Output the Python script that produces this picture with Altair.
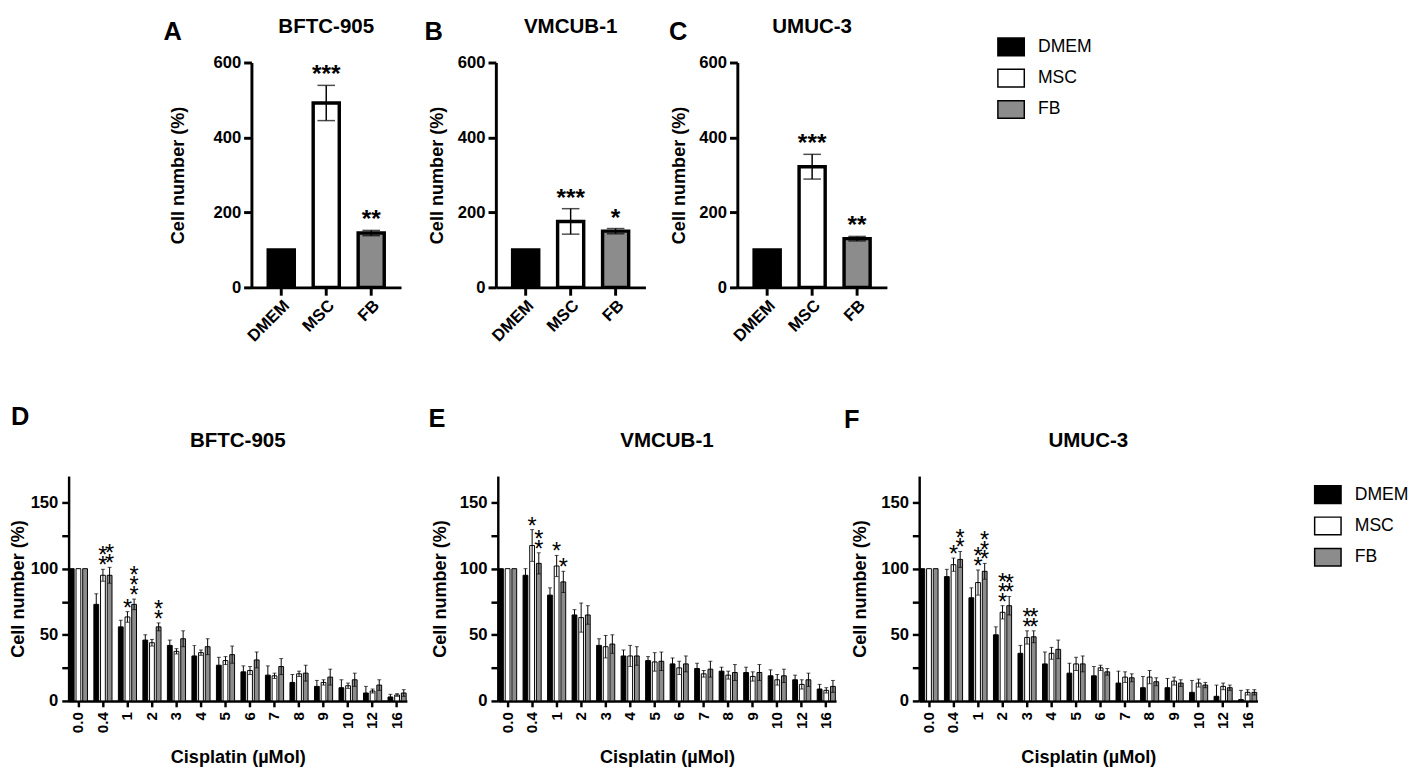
import altair as alt
import pandas as pd

FONT = "Liberation Sans"

groups = ["DMEM", "MSC", "FB"]
group_colors = ["#000000", "#ffffff", "#8c8c8c"]

# ---- Panels A-C (cell number, %) ----
a_mean = [100, 492, 145]
a_sd = [0, 47, 7]
a_star = ["", "***", "**"]
b_mean = [100, 176, 150]
b_sd = [0, 34, 7]
b_star = ["", "***", "*"]
c_mean = [100, 322, 130]
c_sd = [0, 33, 6]
c_star = ["", "***", "**"]

# ---- Panels D-F (cisplatin dose response, %) ----
doses = ["0.0", "0.4", "1", "2", "3", "4", "5", "6", "7", "8", "9", "10", "12", "16"]

d_dmem = [100, 73, 56, 46, 42, 34, 27, 22, 19.5, 14, 11, 10, 6, 3]
d_dmem_sd = [0, 8, 5, 4, 4, 8, 6, 4.5, 7, 6, 4.5, 6, 5, 2]
d_msc = [100, 95, 63.5, 44, 37.5, 36.5, 30.5, 23, 19, 20.5, 14, 11.5, 7.5, 4.5]
d_msc_sd = [0, 4.5, 4, 2.5, 2, 2, 3, 3, 2, 2, 2, 2, 1.5, 1]
d_fb = [100, 95, 73, 56, 47, 41, 35, 31, 26, 21, 18, 16, 12, 6]
d_fb_sd = [0, 6, 4, 3, 6, 6, 6.5, 6, 6, 6, 6, 5, 4, 2.5]
d_msc_star = ["", "**", "*", "", "", "", "", "", "", "", "", "", "", ""]
d_fb_star = ["", "**", "***", "**", "", "", "", "", "", "", "", "", "", ""]

e_dmem = [100, 95, 80, 65, 42, 34, 30.5, 28, 24.5, 22.5, 21.5, 19, 16, 9]
e_dmem_sd = [0, 5, 5.5, 4, 5, 4.5, 3, 4.5, 4, 3, 4, 4.5, 3.5, 3.5]
e_msc = [100, 117.5, 102, 63, 41, 34, 29.5, 25, 20.5, 19.5, 18.5, 16, 12.5, 8]
e_msc_sd = [0, 12, 8, 11, 8.5, 8, 7, 5, 2.5, 3, 3.5, 4, 3.5, 2]
e_fb = [100, 104, 90, 65, 43, 34, 30, 28, 24, 21.5, 21.5, 19, 16, 11]
e_fb_sd = [0, 8, 8, 7, 7, 7, 7, 6, 6, 6, 6, 5, 5, 4.5]
e_msc_star = ["", "*", "*", "", "", "", "", "", "", "", "", "", "", ""]
e_fb_star = ["", "**", "*", "", "", "", "", "", "", "", "", "", "", ""]

f_dmem = [100, 94, 78, 50, 36, 28, 21, 19, 13.5, 10, 10, 6.5, 3.5, 1]
f_dmem_sd = [0, 5.5, 7.5, 6, 6, 9, 7.5, 7, 9, 8.5, 7, 9, 8.5, 7]
f_msc = [100, 103, 89.5, 67, 48, 36, 28, 25, 18, 18, 15, 13.5, 11, 6.5]
f_msc_sd = [0, 5, 9.5, 5, 5, 4.5, 5, 2, 4, 5, 3, 3, 2.5, 2]
f_fb = [100, 107, 98, 72, 48.5, 39, 28, 22, 17.5, 14.5, 13.5, 12, 10, 6.5]
f_fb_sd = [0, 6, 6, 7, 4.5, 7, 6, 2.5, 3, 3, 2.5, 2, 2, 2]
f_msc_star = ["", "*", "**", "***", "**", "", "", "", "", "", "", "", "", ""]
f_fb_star = ["", "**", "***", "**", "**", "", "", "", "", "", "", "", "", ""]

RECT = "M-1.5,-1H1.5V1H-1.5Z"
BW = 346  # bottom panel plot width


def make_legend(lx, ly):
    return alt.Legend(title=None, orient="none", legendX=lx, legendY=ly,
                      symbolType=RECT, symbolSize=324, symbolStrokeColor="black",
                      symbolStrokeWidth=1.5, labelFontSize=18, labelFont=FONT,
                      labelFontWeight="normal", labelColor="black",
                      labelOffset=17.5, rowPadding=8)


def label_layers(letter, name, lx, ly, width, ty):
    one = pd.DataFrame({"t": [letter], "n": [name]})
    letter_mark = alt.Chart(one).mark_text(
        align="left", baseline="top", fontSize=26, fontWeight="bold",
        font=FONT, color="black").encode(text="t:N", x=alt.value(lx), y=alt.value(ly))
    title_mark = alt.Chart(one).mark_text(
        align="center", baseline="middle", fontSize=21, fontWeight="bold",
        font=FONT, color="black").encode(text="n:N", x=alt.value(width / 2), y=alt.value(ty))
    return [letter_mark, title_mark]


def top_panel(letter, name, mean, sd, star, title_pad, lx, legend):
    df = pd.DataFrame({"group": groups, "m": mean, "s": sd, "star": star})
    df["hi"] = df["m"] + df["s"]
    df["lo"] = df["m"] - df["s"]
    base = alt.Chart(df)
    xaxis = alt.Axis(title=None, labelAngle=315, labelFontSize=17, labelPadding=2,
                     tickSize=8, tickWidth=3, domainWidth=3)
    x = alt.X("group:N", sort=groups,
              scale=alt.Scale(paddingInner=0.42, paddingOuter=0.373), axis=xaxis)
    yscale = alt.Scale(domain=[0, 600], nice=False)
    yaxis = alt.Axis(title="Cell number (%)", values=[0, 200, 400, 600], labelFontSize=17,
                     titleFontSize=18.5, tickSize=8, tickWidth=3, domainWidth=3,
                     labelPadding=3, titlePadding=title_pad)
    color = alt.Color("group:N", scale=alt.Scale(domain=groups, range=group_colors),
                      legend=legend)
    bars = base.mark_bar(stroke="black", strokeWidth=3.5).encode(
        x=x, y=alt.Y("m:Q", scale=yscale, axis=yaxis), color=color)
    err = base.transform_filter("datum.s > 0")
    rule = err.mark_rule(color="black", strokeWidth=1.5).encode(
        x=x, y=alt.Y("lo:Q", scale=yscale, axis=yaxis), y2="hi:Q")
    cap_hi = err.mark_tick(color="black", size=18, thickness=1.5).encode(
        x=x, y=alt.Y("hi:Q", scale=yscale, axis=yaxis))
    cap_lo = err.mark_tick(color="black", size=18, thickness=1.5).encode(
        x=x, y=alt.Y("lo:Q", scale=yscale, axis=yaxis))
    stars = base.transform_filter("datum.star != ''").mark_text(
        fontSize=25, fontWeight="bold", baseline="alphabetic", dy=-3, font=FONT,
        color="black").encode(x=x, y=alt.Y("hi:Q", scale=yscale, axis=yaxis), text="star:N")
    layers = [bars, rule, cap_hi, cap_lo, stars] + label_layers(letter, name, lx, -44, 153, -36)
    return alt.layer(*layers).properties(width=153, height=230)


def bottom_panel(letter, name, dmem, dmem_sd, msc, msc_sd, fb, fb_sd, msc_star, fb_star,
                 title_pad, lx, ly, legend):
    rows = []
    for i, dose in enumerate(doses):
        for g, m, s, st in (("DMEM", dmem[i], dmem_sd[i], ""),
                            ("MSC", msc[i], msc_sd[i], msc_star[i]),
                            ("FB", fb[i], fb_sd[i], fb_star[i])):
            rows.append({"dose": dose, "group": g, "m": m, "s": s, "n": len(st),
                         "hi": m + s, "lo": max(m - s, 0)})
    df = pd.DataFrame(rows)
    base = alt.Chart(df)
    xaxis = alt.Axis(title="Cisplatin (µMol)", labelAngle=270, labelFontSize=15.5,
                     titleFontSize=18.5, tickSize=6, tickWidth=2.5, domainWidth=2.5,
                     labelPadding=5, titlePadding=15)
    x = alt.X("dose:N", sort=doses,
              scale=alt.Scale(paddingInner=0.26, paddingOuter=0.03), axis=xaxis)
    xo = alt.XOffset("group:N", sort=groups,
                     scale=alt.Scale(paddingInner=0.28, paddingOuter=0))
    yscale = alt.Scale(domain=[0, 170], nice=False)
    yaxis = alt.Axis(title="Cell number (%)", values=[0, 25, 50, 75, 100, 125, 150],
                     labelExpr="datum.value % 50 === 0 ? datum.label : ''",
                     labelFontSize=17, titleFontSize=18.5, tickSize=7, tickWidth=2.5,
                     domainWidth=2.5, labelPadding=4, titlePadding=title_pad)
    color = alt.Color("group:N", scale=alt.Scale(domain=groups, range=group_colors),
                      legend=legend)
    bars = base.mark_bar(stroke="black", strokeWidth=1).encode(
        x=x, xOffset=xo, y=alt.Y("m:Q", scale=yscale, axis=yaxis), color=color)
    err = base.transform_filter("datum.s > 0")
    rule = err.mark_rule(color="black", strokeWidth=1).encode(
        x=x, xOffset=xo, y=alt.Y("lo:Q", scale=yscale, axis=yaxis), y2="hi:Q")
    cap_hi = err.mark_tick(color="black", size=4, thickness=1).encode(
        x=x, xOffset=xo, y=alt.Y("hi:Q", scale=yscale, axis=yaxis))
    cap_lo = err.mark_tick(color="black", size=4, thickness=1).encode(
        x=x, xOffset=xo, y=alt.Y("lo:Q", scale=yscale, axis=yaxis))
    star_layers = []
    for k in range(3):
        star_layers.append(
            base.transform_filter(f"datum.n > {k}").mark_text(
                text="*", fontSize=24, baseline="alphabetic", dy=4 - 10 * k,
                font=FONT, color="black").encode(
                x=x, xOffset=xo, y=alt.Y("hi:Q", scale=yscale, axis=yaxis)))
    layers = [bars, rule, cap_hi, cap_lo] + star_layers + \
        label_layers(letter, name, lx, ly, BW, -36)
    return alt.layer(*layers).properties(width=BW, height=230)


def spacer(w, h):
    return alt.Chart(pd.DataFrame({"t": [""]})).mark_text().encode(
        text="t:N", x=alt.value(0), y=alt.value(0)).properties(width=w, height=h)


pa = top_panel("A", "BFTC-905", a_mean, a_sd, a_star, 26, -90, None)
pb = top_panel("B", "VMCUB-1", b_mean, b_sd, b_star, 11, -73, None)
pc = top_panel("C", "UMUC-3", c_mean, c_sd, c_star, 11, -70, make_legend(270, -26))

pd_ = bottom_panel("D", "BFTC-905", d_dmem, d_dmem_sd, d_msc, d_msc_sd, d_fb, d_fb_sd,
                   d_msc_star, d_fb_star, 3, -59, -73, None)
pe = bottom_panel("E", "VMCUB-1", e_dmem, e_dmem_sd, e_msc, e_msc_sd, e_fb, e_fb_sd,
                  e_msc_star, e_fb_star, 10, -71, -71, None)
pf = bottom_panel("F", "UMUC-3", f_dmem, f_dmem_sd, f_msc, f_msc_sd, f_fb, f_fb_sd,
                  f_msc_star, f_fb_star, 12, -77, -70, make_legend(408, 9))

top_row = alt.hconcat(spacer(73, 230), pa, pb, pc, spacing=24).resolve_scale(
    color="independent").resolve_legend(color="independent")
bottom_row = alt.hconcat(pd_, spacer(18, 230), pe, spacer(4, 230), pf,
                         spacing=2).resolve_scale(
    color="independent").resolve_legend(color="independent")

chart = alt.vconcat(top_row, bottom_row, spacing=61).resolve_scale(
    color="independent").resolve_legend(color="independent").properties(
    padding=0, background="white"
).configure_view(stroke=None).configure_axis(
    labelFont=FONT, titleFont=FONT, labelColor="black", titleColor="black",
    domainColor="black", tickColor="black", grid=False,
    labelFontWeight="bold", titleFontWeight="bold"
)

chart.save("out.html", embed_options={"renderer": "svg", "actions": False})
